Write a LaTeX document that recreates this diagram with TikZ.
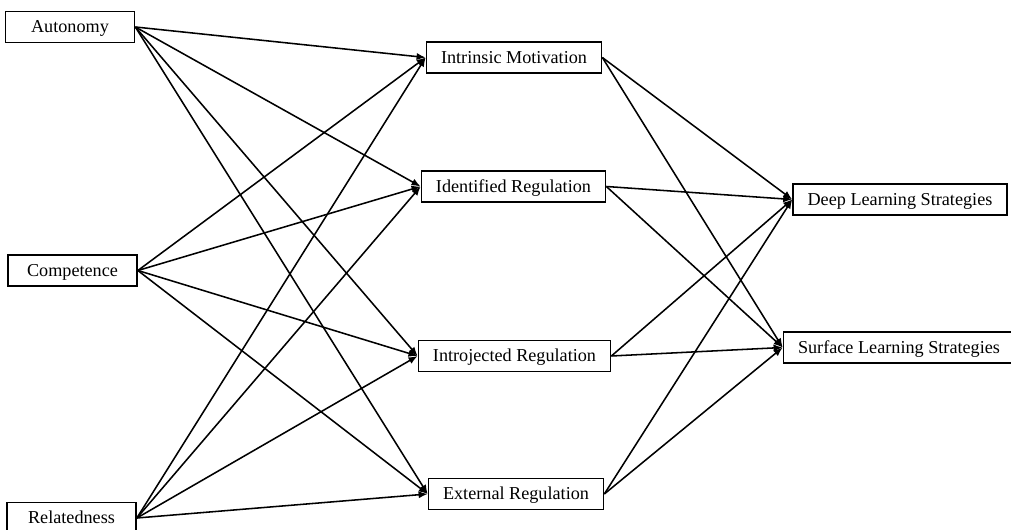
\documentclass[tikz,border=0pt]{standalone}
\usepackage{xcolor}
\usepackage{fontspec}
\setmainfont{Liberation Serif}
\usepackage{tikz}
\usetikzlibrary{arrows.meta}

\begin{document}
\begin{tikzpicture}[x=.55pt, y=-.55pt,
    box/.style={draw, line width=.9pt, font=\fontsize{10}{12}\selectfont,
                inner xsep=8pt, inner ysep=0pt, minimum height=17pt,
                text height=8.5pt, text depth=2pt},
    srcbox/.style={box, minimum width=71pt},
    path/.style={line width=.85pt, -{Latex[length=5pt,width=4pt]}}]
             \useasboundingbox (0,0) rectangle (1011,530);

             % determinants
             \node[srcbox] (auto) at (70, 27) {Autonomy};
             \node[srcbox] (comp) at (72.5, 270.5) {Competence};
             \node[srcbox] (rel) at (71.5, 518) {Relatedness};

             % motivation types
             \node[box] (intr) at (514, 57.5) {Intrinsic Motivation};
             \node[box] (iden) at (513.5, 186.5) {Identified Regulation};
             \node[box] (intro) at (514.5, 356) {Introjected Regulation};
             \node[box] (ext) at (516, 494) {External Regulation};

             % outcomes
             \node[box] (deep) at (900, 199.5) {Deep Learning Strategies};
             \node[box] (surf) at (899, 347.5) {Surface Learning Strategies};

             \draw[path] (auto.east) -- (intr.west);
             \draw[path] (auto.east) -- (iden.west);
             \draw[path] (auto.east) -- (intro.west);
             \draw[path] (auto.east) -- (ext.west);

             \draw[path] (comp.east) -- (intr.west);
             \draw[path] (comp.east) -- (iden.west);
             \draw[path] (comp.east) -- (intro.west);
             \draw[path] (comp.east) -- (ext.west);

             \draw[path] (rel.east) -- (intr.west);
             \draw[path] (rel.east) -- (iden.west);
             \draw[path] (rel.east) -- (intro.west);
             \draw[path] (rel.east) -- (ext.west);

             \draw[path] (intr.east) -- (deep.west);
             \draw[path] (intr.east) -- (surf.west);
             \draw[path] (iden.east) -- (deep.west);
             \draw[path] (iden.east) -- (surf.west);
             \draw[path] (intro.east) -- (deep.west);
             \draw[path] (intro.east) -- (surf.west);
             \draw[path] (ext.east) -- (deep.west);
             \draw[path] (ext.east) -- (surf.west);
\end{tikzpicture}
\end{document}
